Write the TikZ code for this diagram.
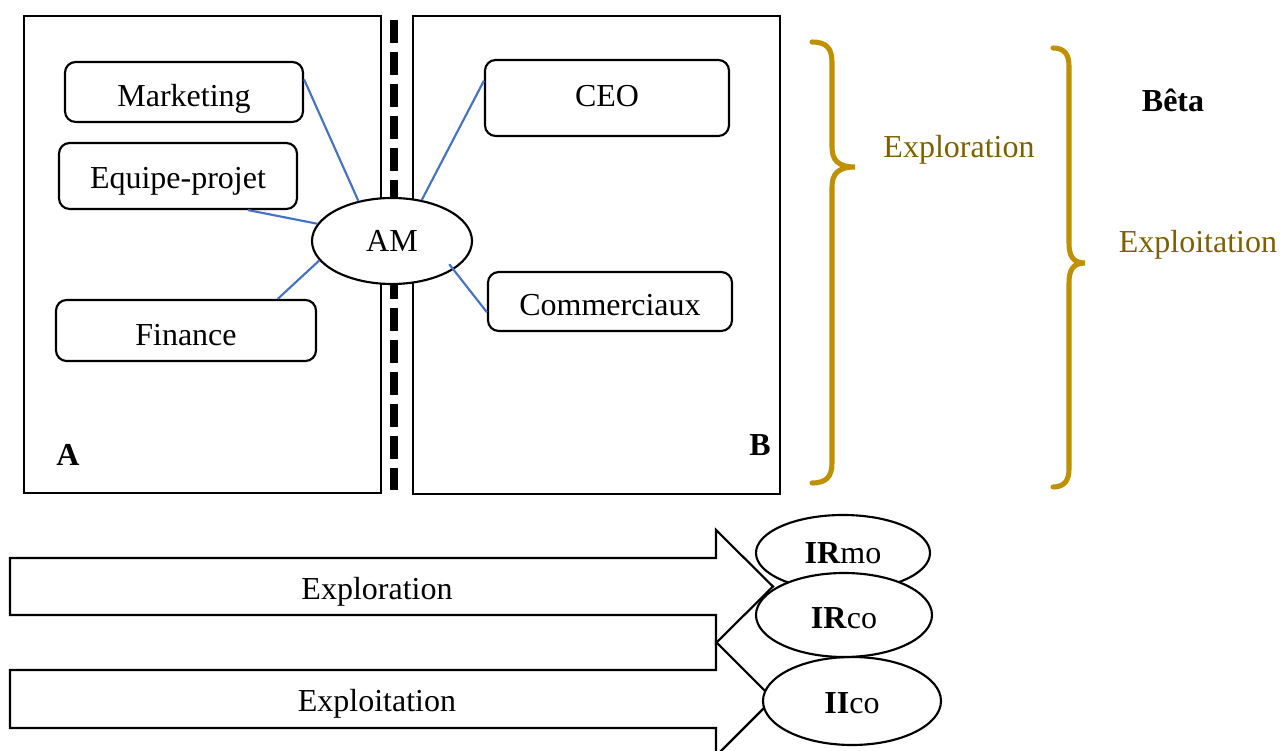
\documentclass[12pt,tikz,border=0pt]{standalone}
\usepackage{fontspec}
\setmainfont{Liberation Serif}
\definecolor{ORGgold}{HTML}{BF9000}
\definecolor{ORGbrown}{HTML}{7F6000}
\definecolor{ORGblue}{HTML}{4472C4}
\usetikzlibrary{shapes.geometric, calc, positioning}

\begin{document}
\begin{tikzpicture}[x=0.375pt, y=-0.375pt,
      unitbox/.style={draw, line width=0.8pt, rounded corners=4pt, inner sep=0pt, text depth=3pt},
      oval/.style={draw, ellipse, line width=0.8pt, fill=white, inner sep=0pt},
      link/.style={ORGblue, line width=0.8pt},
      goldbrace/.style={ORGgold, line width=1.9pt, line cap=round}]
   \useasboundingbox (0,0) rectangle (1280,751);
   % the two fields
   \draw[line width=0.8pt] (24,16) rectangle (381,493);
   \draw[line width=0.8pt] (413,16) rectangle (780,494);
   \draw[line width=3pt, dash pattern=on 8.6pt off 3.4pt] (394,20) -- (394,490);
   \node[font=\bfseries] (labA) at (68,455) {A};
   \node[font=\bfseries] (labB) at (760,445) {B};
   % units
   \node[unitbox, minimum width=89.25pt, minimum height=22.5pt, text height=13.8pt] (mkt) at (184,92) {Marketing};
   \node[unitbox, minimum width=89.25pt, minimum height=24.75pt, text height=12.4pt] (eqp) at (178,176) {Equipe-projet};
   \node[unitbox, minimum width=97.5pt, minimum height=22.9pt, text height=14.2pt] (fin) at (186,330.5) {Finance};
   \node[unitbox, minimum width=91.5pt, minimum height=28.5pt, text height=9.5pt] (ceo) at (607,98) {CEO};
   \node[unitbox, minimum width=91.5pt, minimum height=22.1pt, text height=13.4pt] (com) at (610,301.5) {Commerciaux};
   \node[oval, minimum width=60pt, minimum height=32.25pt] (am) at (392,241) {AM};
   \draw[link] (mkt.6) -- (am.130);
   \draw[link] (eqp.-26) -- (am.167);
   \draw[link] (fin.19) -- (am.195);
   \draw[link] (ceo.172) -- (am.54);
   \draw[link, shorten >=-2.6pt] (com.185) -- (am.-25);
   % braces
   \draw[goldbrace] (812,42) .. controls (826,42) and (832,48) .. (832,62) -- (832,147)
      .. controls (832,160) and (838,167) .. (855,167) .. controls (838,167) and (832,174) .. (832,187)
      -- (832,463) .. controls (832,477) and (826,483) .. (812,483);
   \draw[goldbrace] (1053,48) .. controls (1064,48) and (1069,54) .. (1069,66) -- (1069,243)
      .. controls (1069,256) and (1073,263) .. (1085,263) .. controls (1073,263) and (1069,270) .. (1069,283)
      -- (1069,469) .. controls (1069,481) and (1064,487) .. (1053,487);
   \node[text=ORGbrown] (explor) at (959,150) {Exploration};
   \node[text=ORGbrown] (exploi) at (1198,245) {Exploitation};
   \node[font=\bfseries] (beta) at (1173,100) {Bêta};
   % block arrows
   \draw[line width=0.8pt] (10,558) -- (716,558) -- (716,530) -- (773,586.5) -- (716,643)
      -- (716,615) -- (10,615) -- cycle;
   \draw[line width=0.8pt] (10,670) -- (716,670) -- (716,642) -- (773,699) -- (716,756)
      -- (716,728) -- (10,728) -- cycle;
   \node (arrexplor) at (377,592) {Exploration};
   \node (arrexploi) at (377,704) {Exploitation};
   % outcomes
   \node[oval, minimum width=65.25pt, minimum height=28.5pt] (irmo) at (843,553) {\textbf{IR}mo};
   \node[oval, minimum width=66.75pt, minimum height=33pt, text height=12.5pt, text depth=3pt] (iico) at (852,701) {\textbf{II}co};
   \node[oval, minimum width=66pt, minimum height=31.5pt, text height=13.2pt, text depth=3pt] (irco) at (844,615) {\textbf{IR}co};
\end{tikzpicture}
\end{document}
